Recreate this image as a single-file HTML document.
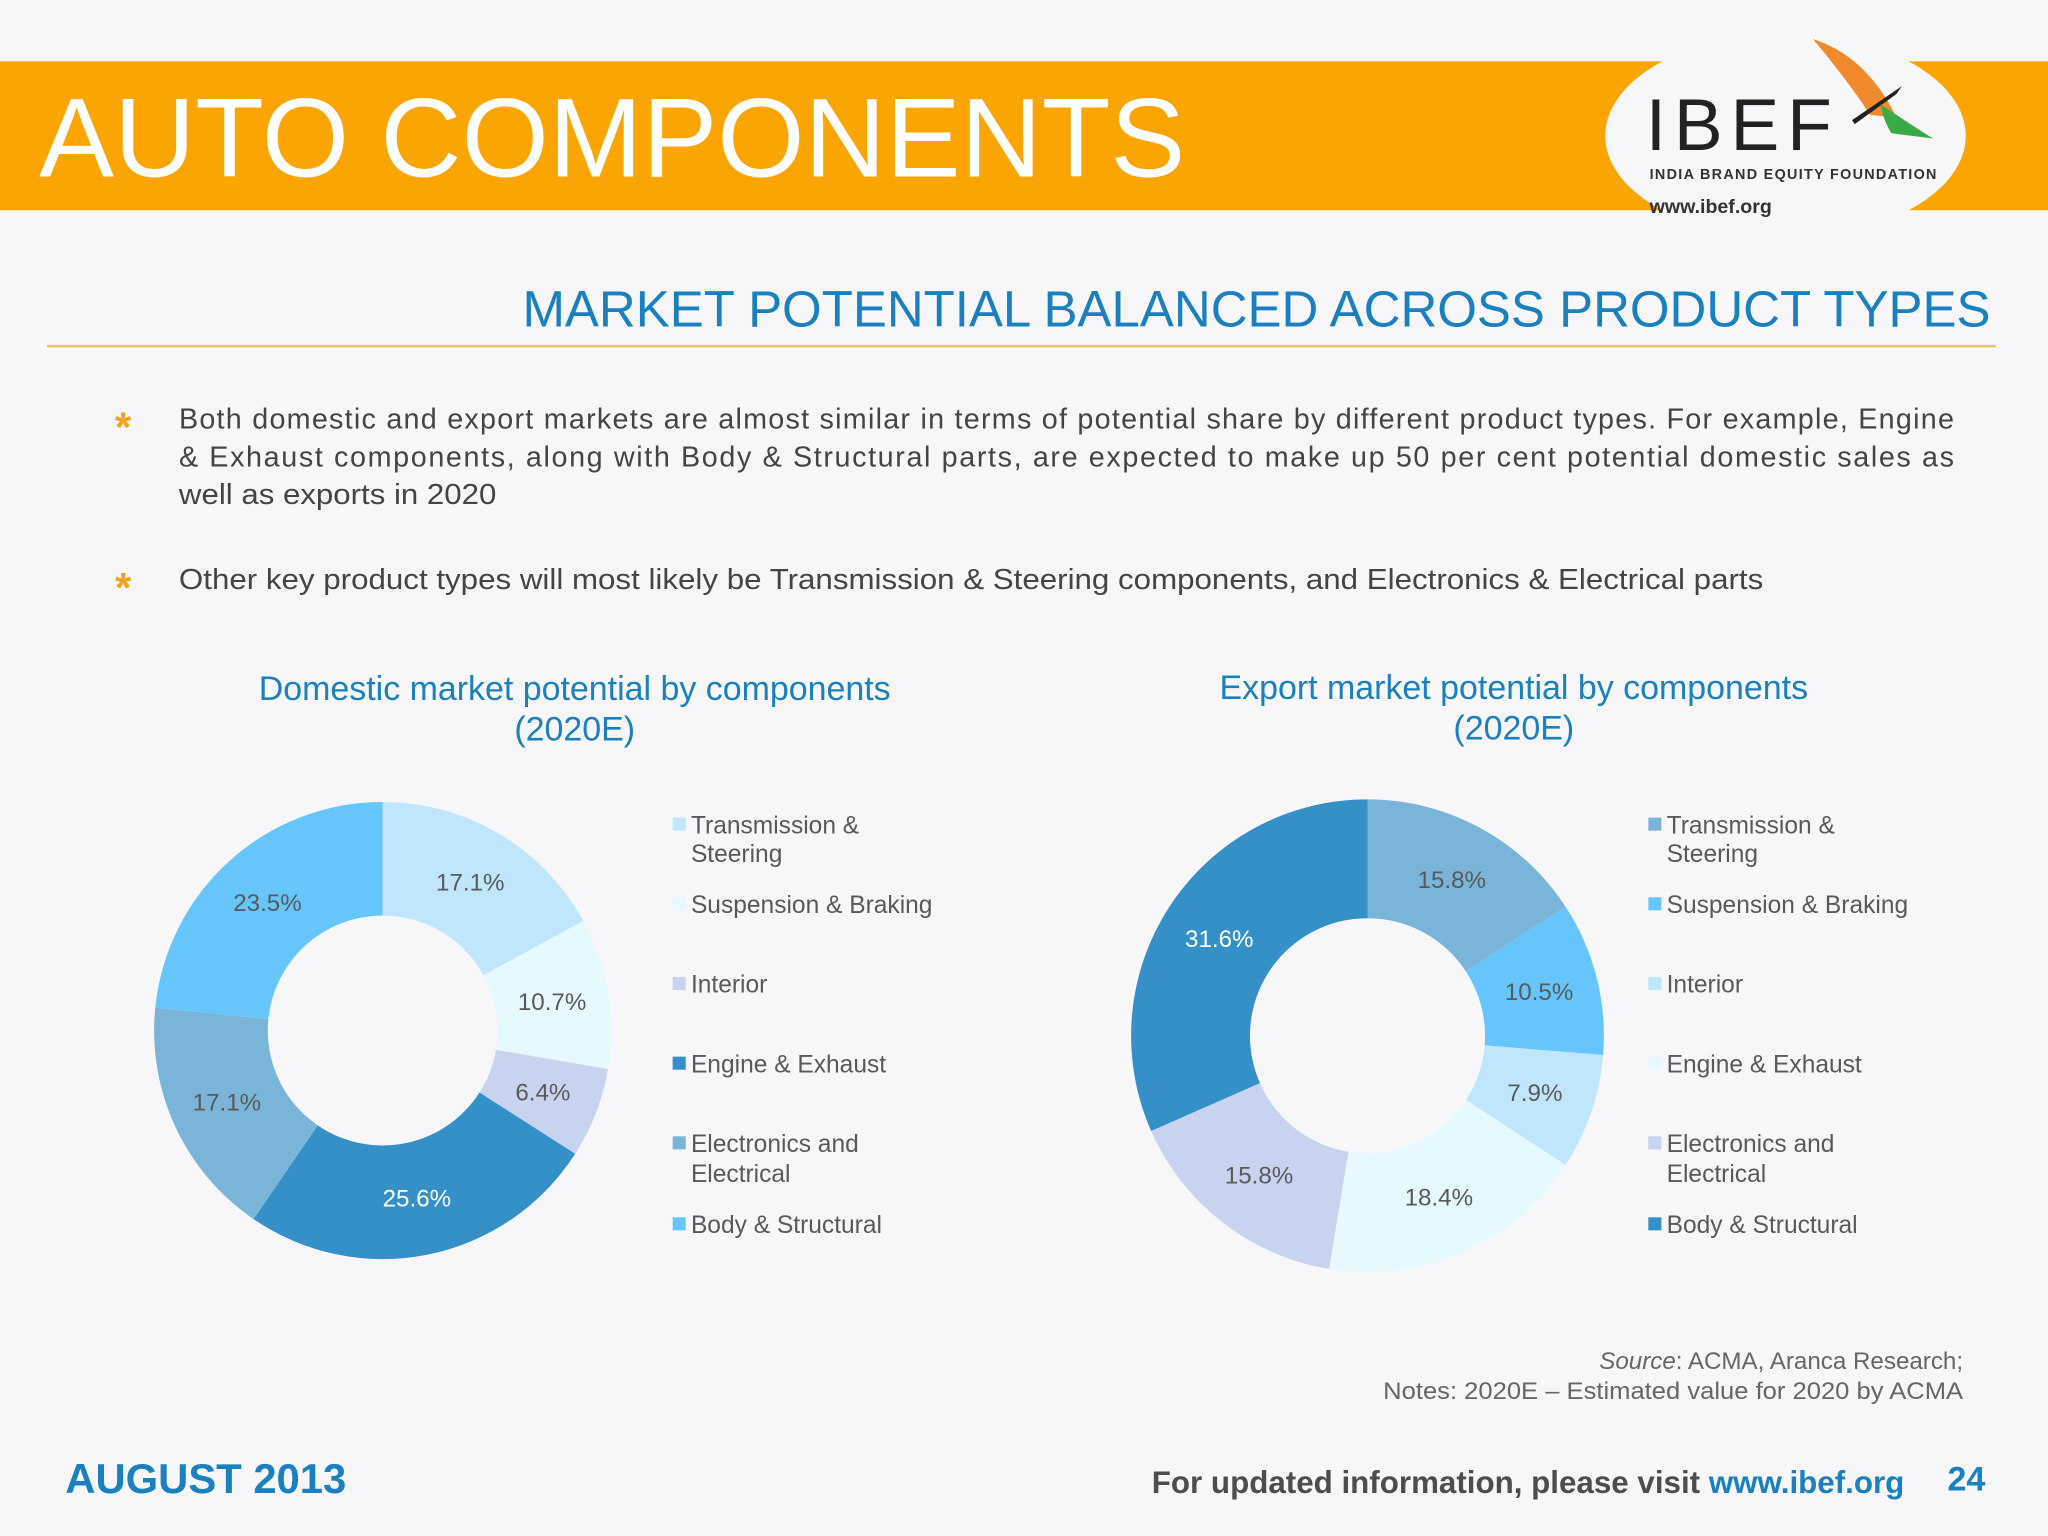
<!DOCTYPE html>
<html><head><meta charset="utf-8">
<style>
html,body{margin:0;padding:0;background:#f7f7f9;}
svg{display:block;font-family:"Liberation Sans",sans-serif;}
</style></head>
<body>
<svg id="page" width="2048" height="1536" viewBox="0 0 1568 1176" xmlns="http://www.w3.org/2000/svg">
<rect width="1568" height="1176" fill="#f7f7f9"/>
<g>
<rect x="0" y="47" width="1568" height="114" fill="#fba502"/>
<text x="30" y="135" font-size="86" fill="#ffffff">AUTO COMPONENTS</text>
</g>
<g>
<ellipse cx="1367" cy="104" rx="138" ry="78" fill="#f7f7f9"/>
<text x="1260" y="115" font-size="56" fill="#222" letter-spacing="6">IBEF</text>
<path d="M1388,30 C1420,40 1440,65 1452,90 L1432,88 C1420,70 1405,50 1388,30Z" fill="#f08a2c"/>
<path d="M1418,92 L1456,66 L1452,72 L1420,95Z" fill="#222"/>
<path d="M1440,80 C1455,90 1470,100 1480,106 L1448,102 C1444,95 1441,88 1440,80Z" fill="#3aaa47"/>
<text x="1263" y="137" font-size="11" font-weight="bold" fill="#333" letter-spacing="1">INDIA BRAND EQUITY FOUNDATION</text>
<text x="1263" y="163" font-size="15" font-weight="bold" fill="#333">www.ibef.org</text>
</g>
<text x="400" y="250" font-size="39" fill="#1a80bf" textLength="1124" lengthAdjust="spacingAndGlyphs">MARKET POTENTIAL BALANCED ACROSS PRODUCT TYPES</text>
<line x1="36" y1="265" x2="1528" y2="265" stroke="#e6c36a" stroke-width="2"/>
<g font-size="22" fill="#444">
<text x="88" y="338" font-size="32" fill="#f3a11e" font-weight="bold">*</text>
<text x="137" y="328" textLength="1359" lengthAdjust="spacing">Both domestic and export markets are almost similar in terms of potential share by different product types. For example, Engine</text>
<text x="137" y="357" textLength="1359" lengthAdjust="spacing">&amp; Exhaust components, along with Body &amp; Structural parts, are expected to make up 50 per cent potential domestic sales as</text>
<text x="137" y="386" textLength="243" lengthAdjust="spacingAndGlyphs">well as exports in 2020</text>
<text x="88" y="461" font-size="32" fill="#f3a11e" font-weight="bold">*</text>
<text x="137" y="451" textLength="1213" lengthAdjust="spacingAndGlyphs">Other key product types will most likely be Transmission &amp; Steering components, and Electronics &amp; Electrical parts</text>
</g>
<g font-size="26" fill="#1a80bf" text-anchor="middle">
<text x="440" y="536">Domestic market potential by components</text>
<text x="440" y="567">(2020E)</text>
</g>
<g font-size="26" fill="#1a80bf" text-anchor="middle">
<text x="1159" y="535">Export market potential by components</text>
<text x="1159" y="566">(2020E)</text>
</g>
<g id="domestic"></g>
<g id="export"></g>
<g id="domLegend"></g>
<g id="expLegend"></g>
<g font-size="18.5" fill="#666" text-anchor="end">
<text x="1503" y="1048"><tspan font-style="italic">Source</tspan>: ACMA, Aranca Research;</text>
<text x="1503" y="1071" textLength="444" lengthAdjust="spacingAndGlyphs">Notes: 2020E – Estimated value for 2020 by ACMA</text>
</g>
<g font-weight="bold">
<text x="50" y="1143" font-size="32" fill="#1a80bf">AUGUST 2013</text>
<text x="1458" y="1143" font-size="24" fill="#4d4d4d" text-anchor="end">For updated information, please visit <tspan fill="#1a80bf">www.ibef.org</tspan></text>
<text x="1520" y="1141" font-size="26" fill="#1a80bf" text-anchor="end">24</text>
</g>
</svg>
<script>
const categories = ["Transmission & Steering","Suspension & Braking","Interior","Engine & Exhaust","Electronics and Electrical","Body & Structural"];
const domesticValues = [17.1, 10.7, 6.4, 25.6, 17.1, 23.5];
const exportValues = [15.8, 10.5, 7.9, 18.4, 15.8, 31.6];
const domesticLabels = ["17.1%","10.7%","6.4%","25.6%","17.1%","23.5%"];
const exportLabels = ["15.8%","10.5%","7.9%","18.4%","15.8%","31.6%"];
const domesticColors = ["#bfe6fc","#e6f9ff","#c8d3ef","#3590c8","#7ab5d9","#66c6fb"];
const exportColors = ["#7ab5d9","#66c6fb","#bfe6fc","#e6f9ff","#c8d3ef","#3590c8"];
const NS = "http://www.w3.org/2000/svg";
function pt(cx, cy, r, a){ return [cx + r*Math.sin(a), cy - r*Math.cos(a)]; }
function donut(g, vals, labels, colors, cx, cy, ro, ri, darkIdx){
  const total = vals.reduce((s,v)=>s+v,0);
  let a0 = 0;
  vals.forEach((v,i)=>{
    const a1 = a0 + v/total*2*Math.PI;
    const large = (a1-a0) > Math.PI ? 1 : 0;
    const p1 = pt(cx,cy,ro,a0), p2 = pt(cx,cy,ro,a1), p3 = pt(cx,cy,ri,a1), p4 = pt(cx,cy,ri,a0);
    const path = document.createElementNS(NS,"path");
    path.setAttribute("d", `M${p1[0]},${p1[1]} A${ro},${ro} 0 ${large} 1 ${p2[0]},${p2[1]} L${p3[0]},${p3[1]} A${ri},${ri} 0 ${large} 0 ${p4[0]},${p4[1]} Z`);
    path.setAttribute("fill", colors[i]);
    
    
    g.appendChild(path);
    const am = (a0+a1)/2;
    const lp = pt(cx,cy,(ro+ri)/2,am);
    const t = document.createElementNS(NS,"text");
    t.setAttribute("x", lp[0]); t.setAttribute("y", lp[1]+6);
    t.setAttribute("text-anchor","middle"); t.setAttribute("font-size","18.5");
    t.setAttribute("fill", i===darkIdx ? "#ffffff" : "#595959");
    t.textContent = labels[i];
    
    
    g.appendChild(t);
    a0 = a1;
  });
}
donut(document.getElementById("domestic"), domesticValues, domesticLabels, domesticColors, 293, 789, 175, 88, 3);
donut(document.getElementById("export"), exportValues, exportLabels, exportColors, 1047, 793, 181, 90, 5);
const legendRows = [[631,653],[692],[753],[814],[875,898],[937]];
const legendLines = [["Transmission &","Steering"],["Suspension & Braking"],["Interior"],["Engine & Exhaust"],["Electronics and","Electrical"],["Body & Structural"]];
function legend(g, x, colors){
  categories.forEach((c,i)=>{
    const ys = legendRows[i];
    const r = document.createElementNS(NS,"rect");
    r.setAttribute("x", x); r.setAttribute("y", ys[0]-5); r.setAttribute("width",10); r.setAttribute("height",10);
    r.setAttribute("fill", colors[i]);
    
    
    g.appendChild(r);
    legendLines[i].forEach((ln,j)=>{
      const t = document.createElementNS(NS,"text");
      t.setAttribute("x", x+14); t.setAttribute("y", ys[j]+7);
      t.setAttribute("font-size","18.8"); t.setAttribute("fill","#595959");
      t.textContent = ln;
      
      
      g.appendChild(t);
    });
  });
}
legend(document.getElementById("domLegend"), 515, domesticColors);
legend(document.getElementById("expLegend"), 1262, exportColors);
</script>
</body></html>
